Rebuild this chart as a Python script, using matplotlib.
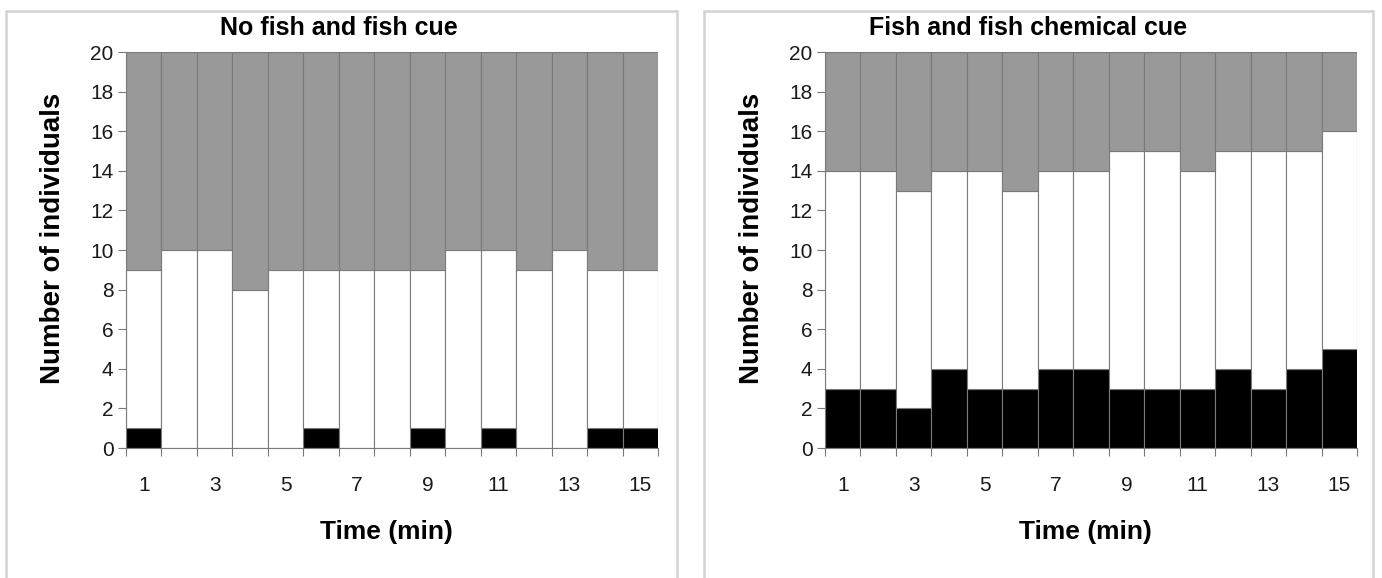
import matplotlib
matplotlib.use("Agg")
import matplotlib.pyplot as plt
from matplotlib.patches import Rectangle
import numpy as np

plt.rcParams['font.family'] = ['Liberation Sans', 'DejaVu Sans']

minutes = list(range(1, 16))
total = 20

# Panel 1: no fish and fish cue
black_a = [1, 0, 0, 0, 0, 1, 0, 0, 1, 0, 1, 0, 0, 1, 1]
white_top_a = [9, 10, 10, 8, 9, 9, 9, 9, 9, 10, 10, 9, 10, 9, 9]

# Panel 2: fish and fish chemical cue
black_b = [3, 3, 2, 4, 3, 3, 4, 4, 3, 3, 3, 4, 3, 4, 5]
white_top_b = [14, 14, 13, 14, 14, 13, 14, 14, 15, 15, 14, 15, 15, 15, 16]

titles = ["No fish and fish cue", "Fish and fish chemical cue"]
ylabel = "Number of individuals"
xlabel = "Time (min)"

W, H = 1382, 578
fig = plt.figure(figsize=(W / 100, H / 100), dpi=100)

# outer frames around each panel
for x0, x1 in [(6, 677), (704, 1373)]:
    fig.add_artist(Rectangle((x0 / W, -0.05), (x1 - x0) / W, (H - 11) / H + 0.05,
                             transform=fig.transFigure, fill=False,
                             edgecolor='#d2d2d2', linewidth=1.8))

edge = '#7a7a7a'
ax_w_px, ax_h_px = 532, 396
panels = [(126, black_a, white_top_a, 0.40), (825, black_b, white_top_b, 0.382)]
for (left_px, blk, top, title_x), title in zip(panels, titles):
    ax = fig.add_axes([left_px / W, 1 - 448 / H, ax_w_px / W, ax_h_px / H])
    x = np.array(minutes)
    blk = np.array(blk)
    top = np.array(top)
    ax.bar(x, blk, width=1.0, color='black', edgecolor=edge, linewidth=0.8)
    ax.bar(x, top - blk, bottom=blk, width=1.0, color='white', edgecolor=edge, linewidth=0.8)
    ax.bar(x, total - top, bottom=top, width=1.0, color='#999999', edgecolor=edge, linewidth=0.8)
    ax.set_xlim(0.5, 15.5)
    ax.set_ylim(0, 20)
    ax.set_yticks(range(0, 21, 2))
    ax.set_xticks(np.arange(0.5, 16, 1.0))
    ax.set_xticklabels([])
    ax.set_xticks(minutes[::2], minor=True)
    ax.set_xticklabels([str(m) for m in minutes[::2]], minor=True)
    ax.tick_params(axis='x', which='major', length=6, color=edge, width=0.8, direction='out')
    ax.tick_params(axis='x', which='minor', length=0, pad=20, labelsize=15, labelcolor='#1a1a1a')
    ax.tick_params(axis='y', length=6, color=edge, width=0.8, labelsize=15, labelcolor='#1a1a1a', pad=3)
    for s in ['top', 'right']:
        ax.spines[s].set_visible(False)
    for s in ['left', 'bottom']:
        ax.spines[s].set_color(edge)
        ax.spines[s].set_linewidth(0.8)
    ax.text(title_x, (448 - 28) / ax_h_px, title, transform=ax.transAxes,
            fontsize=18, fontweight='bold', ha='center', va='center')
    ax.set_ylabel(ylabel, fontsize=20, fontweight='bold')
    ax.yaxis.set_label_coords(-73 / ax_w_px, (448 - 238) / ax_h_px)
    ax.yaxis.label.set_va('center')
    ax.set_xlabel(xlabel, fontsize=19, fontweight='bold')
    ax.xaxis.set_label_coords(0.489, (448 - 532) / ax_h_px)
    ax.xaxis.label.set_va('center')

fig.savefig("out.png", dpi=100)
